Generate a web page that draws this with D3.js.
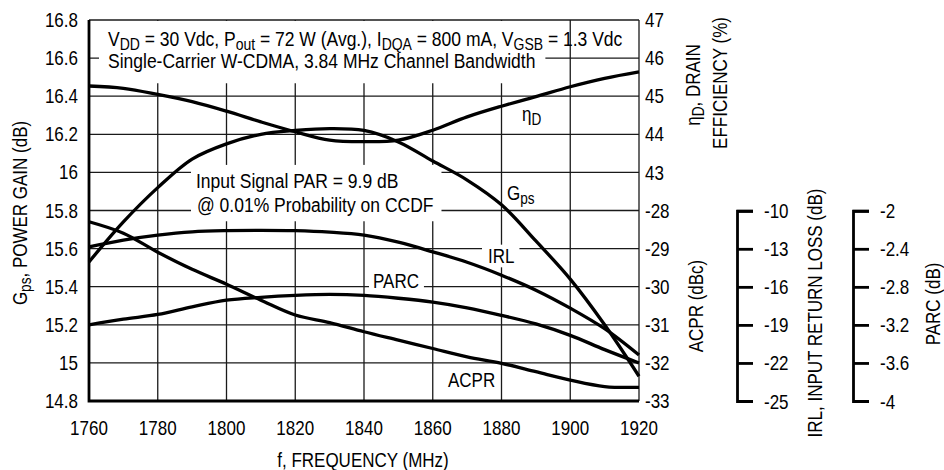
<!DOCTYPE html>
<html>
<head>
<meta charset="utf-8">
<script src="https://cdn.jsdelivr.net/npm/d3@7"></script>
<style>
  body { margin: 0; background: #fff; }
  svg text { font-family: "Liberation Sans", Arial, sans-serif; font-size: 20px; fill: #000; }
</style>
</head>
<body>
<svg width="944" height="470"></svg>
<script>
// values
var freq = [1760, 1770, 1780, 1790, 1800, 1810, 1820, 1830, 1840, 1850, 1860, 1870, 1880, 1890, 1900, 1910, 1920];
var gps  = [15.53, 15.74, 15.92, 16.07, 16.15, 16.20, 16.22, 16.23, 16.22, 16.16, 16.06, 15.96, 15.83, 15.64, 15.44, 15.20, 14.93];
var eff  = [45.27, 45.21, 45.05, 44.86, 44.61, 44.33, 44.07, 43.85, 43.81, 43.85, 44.11, 44.46, 44.74, 44.99, 45.25, 45.47, 45.64];
var irl  = [-12.85, -12.32, -11.93, -11.67, -11.57, -11.54, -11.57, -11.69, -11.93, -12.48, -13.24, -14.06, -15.08, -16.26, -17.68, -19.3, -21.38];
var parc = [-3.20, -3.14, -3.09, -3.01, -2.94, -2.91, -2.89, -2.88, -2.89, -2.92, -2.96, -3.02, -3.10, -3.19, -3.31, -3.46, -3.60];
var acpr = [-28.29, -28.59, -29.09, -29.54, -29.93, -30.35, -30.74, -30.94, -31.18, -31.40, -31.62, -31.84, -32.01, -32.23, -32.45, -32.62, -32.64];

var freqTicks = [1760, 1780, 1800, 1820, 1840, 1860, 1880, 1900, 1920];
var gpsTicks  = [16.8, 16.6, 16.4, 16.2, 16, 15.8, 15.6, 15.4, 15.2, 15, 14.8];
var effTicks  = [47, 46, 45, 44, 43];
var acprTicks = [-28, -29, -30, -31, -32, -33];
var irlTicks  = [-10, -13, -16, -19, -22, -25];
var parcTicks = [-2, -2.4, -2.8, -3.2, -3.6, -4];

var svg = d3.select("svg"),
    pL = 89, pT = 20, pR = 639, pB = 401,
    pM = (pT + pB) / 2 + 0.25,
    SX = 0.85,    // the reference uses a condensed face
    SXA = 0.875;  // annotations run a touch wider

var x = d3.scaleLinear().domain([1760, 1920]).range([pL, pR]);
var yG = d3.scaleLinear().domain([14.8, 16.8]).range([pB, pT]);
var yE = d3.scaleLinear().domain([42, 47]).range([pM, pT]);
var yA = d3.scaleLinear().domain([-33, -28]).range([pB, pM]);
var yI = d3.scaleLinear().domain([-25, -10]).range([pB, pM]);
var yP = d3.scaleLinear().domain([-4, -2]).range([pB, pM]);

function fmt(v) { return String(+v.toFixed(1)); }

// grid
var grid = svg.append("g").attr("stroke", "#1a1a1a").attr("stroke-width", 1.3);
grid.selectAll("line.h").data(gpsTicks).enter().append("line")
  .attr("x1", pL).attr("x2", pR)
  .attr("y1", function(d) { return yG(d); }).attr("y2", function(d) { return yG(d); });
grid.selectAll("line.v").data(freqTicks).enter().append("line")
  .attr("y1", pT).attr("y2", pB)
  .attr("x1", function(d) { return x(d); }).attr("x2", function(d) { return x(d); });

var boxes = svg.append("g");
var curves = svg.append("g");
var labels = svg.append("g");

// thick left/bottom frame
svg.append("path").attr("d", "M" + pL + "," + pT + "V" + pB + "H" + pR)
  .attr("fill", "none").attr("stroke", "#000").attr("stroke-width", 2.8);

function rich(g, px, py, parts, anchor, rot, sx) {
  var t = g.append("text").attr("text-anchor", anchor || "start")
    .attr("transform", "translate(" + px + "," + py + ") rotate(" + (rot || 0) + ") scale(" + (sx || SX) + ",1)");
  var sub = false;
  parts.forEach(function(p) {
    var s = t.append("tspan").text(p[0]);
    if (p[1]) { s.attr("font-size", "16px").attr("dy", 4); sub = true; }
    else if (sub) { s.attr("dy", -4); sub = false; }
  });
  return t;
}
function cover(nodes, pl, pr, pt, pb) {
  var x0 = 1e9, y0 = 1e9, x1 = -1e9, y1 = -1e9;
  nodes.forEach(function(n) {
    var b = n.node().getBoundingClientRect();
    x0 = Math.min(x0, b.left); y0 = Math.min(y0, b.top);
    x1 = Math.max(x1, b.right); y1 = Math.max(y1, b.bottom);
  });
  boxes.append("rect").attr("x", x0 - pl).attr("y", y0 - pt)
    .attr("width", x1 - x0 + pl + pr).attr("height", y1 - y0 + pt + pb).attr("fill", "#fff");
}

// annotations
rich(labels, 108, 46, [["V"], ["DD", 1], [" = 30 Vdc, P"], ["out", 1], [" = 72 W (Avg.), I"], ["DQA", 1], [" = 800 mA, V"], ["GSB", 1], [" = 1.3 Vdc"]], "start", 0, SXA);
var a2 = rich(labels, 108, 68, [["Single-Carrier W-CDMA, 3.84 MHz Channel Bandwidth"]], "start", 0, SXA);
var b2 = a2.node().getBoundingClientRect();
boxes.append("rect").attr("x", b2.left - 9).attr("y", pT + 1)
  .attr("width", b2.width + 19).attr("height", b2.bottom + 10 - pT).attr("fill", "#fff");

var p1 = rich(labels, 196, 188, [["Input Signal PAR = 9.9 dB"]], "start", 0, SXA);
var p2 = rich(labels, 197, 212, [["@ 0.01% Probability on CCDF"]], "start", 0, SXA);
cover([p1, p2], 5, 8, 5, 5);

var lIrl = rich(labels, 488, 263, [["IRL"]]);
cover([lIrl], 6, 5, 0, 0);
var lParc = rich(labels, 373, 288, [["PARC"]]);
cover([lParc], 4, 5, 0, 0);
rich(labels, 448, 387, [["ACPR"]]);
rich(labels, 507, 200, [["G"], ["ps", 1]]);
rich(labels, 522, 121, [["\u03b7"], ["D", 1]]);

// curves
var series = [
  { v: gps, y: yG }, { v: eff, y: yE }, { v: irl, y: yI }, { v: parc, y: yP }, { v: acpr, y: yA }
];
var line = d3.line().curve(d3.curveCatmullRom.alpha(0.5));
curves.selectAll("path").data(series).enter().append("path")
  .attr("fill", "none").attr("stroke", "#000").attr("stroke-width", 3.3)
  .attr("stroke-linejoin", "round")
  .attr("d", function(s) { return line(freq.map(function(f, i) { return [x(f), s.y(s.v[i])]; })); });

// tick labels
gpsTicks.forEach(function(d) { rich(labels, 78, yG(d) + 7, [[fmt(d)]], "end"); });
freqTicks.forEach(function(d) { rich(labels, x(d), 435, [[fmt(d)]], "middle"); });
effTicks.forEach(function(d) { rich(labels, 645, yE(d) + 7, [[fmt(d)]]); });
acprTicks.forEach(function(d) { rich(labels, 645, yA(d) + 7, [[fmt(d)]]); });

// detached IRL and PARC scales
function sideAxis(scale, ticks, ax) {
  var g = svg.append("g").attr("transform", "translate(" + ax + ",0)")
    .call(d3.axisRight(scale).tickValues(ticks).tickSize(16).tickPadding(11).tickFormat(fmt));
  g.select(".domain").attr("stroke-width", 2.8);
  g.selectAll(".tick line").attr("stroke-width", 2.8);
  g.selectAll(".tick text").attr("x", 27 / SX).attr("dy", "0.35em")
    .attr("transform", "scale(" + SX + ",1)");
  g.attr("font-family", null).attr("font-size", null);
}
sideAxis(yI, irlTicks, 737);
sideAxis(yP, parcTicks, 853);

// axis titles
rich(labels, 27, 213, [["G"], ["ps", 1], [", POWER GAIN (dB)"]], "middle", -90);
rich(labels, 700, 85, [["\u03b7"], ["D", 1], [", DRAIN"]], "middle", -90);
rich(labels, 727, 83, [["EFFICIENCY (%)"]], "middle", -90);
rich(labels, 703, 306, [["ACPR (dBc)"]], "middle", -90);
rich(labels, 822, 313, [["IRL, INPUT RETURN LOSS (dB)"]], "middle", -90);
rich(labels, 940, 304, [["PARC (dB)"]], "middle", -90);
rich(labels, 363, 467, [["f, FREQUENCY (MHz)"]], "middle");
</script>
</body>
</html>
